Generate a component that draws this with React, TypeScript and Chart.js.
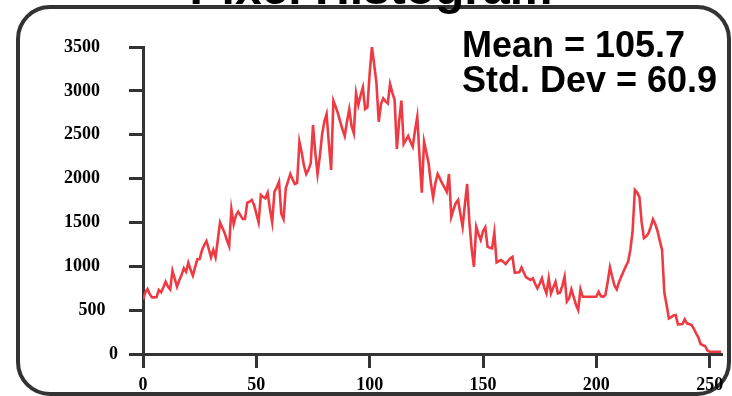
import { useEffect, useRef } from 'react';
import { Chart, registerables } from 'chart.js';

Chart.register(...registerables);

const pixelCounts: number[] = [
  620, 700, 740, 680, 646, 646, 650, 730, 703, 760,
  824, 770, 737, 950, 860, 767, 840, 900, 977, 938,
  1041, 960, 893, 990, 1080, 1083, 1180, 1243, 1288, 1200,
  1102, 1186, 1102, 1300, 1501, 1440, 1380, 1300, 1231, 1650,
  1479, 1580, 1622, 1580, 1539, 1539, 1725, 1736, 1756, 1700,
  1600, 1501, 1813, 1790, 1775, 1839, 1650, 1501, 1850, 1900,
  1964, 1600, 1539, 1889, 1970, 2052, 1990, 1938, 1950, 2420,
  2300, 2150, 2052, 2100, 2174, 2611, 2300, 2052, 2250, 2500,
  2650, 2736, 2400, 2098, 2888, 2820, 2744, 2650, 2560, 2485,
  2650, 2790, 2600, 2516, 2972, 2839, 2950, 3040, 2793, 2812,
  3200, 3503, 3300, 3086, 2648, 2850, 2915, 2880, 2858, 3078,
  2980, 2896, 2337, 2650, 2888, 2394, 2440, 2485, 2420, 2363,
  2550, 2705, 2250, 1839, 2420, 2300, 2174, 1950, 1786, 1950,
  2052, 2000, 1946, 1900, 1850, 2052, 1565, 1650, 1720, 1756,
  1600, 1451, 1700, 1938, 1500, 1200, 995, 1451, 1370, 1300,
  1400, 1444, 1223, 1210, 1204, 1383, 1045, 1060, 1072, 1050,
  1026, 1060, 1090, 1109, 927, 930, 931, 988, 930, 874,
  860, 844, 863, 800, 749, 800, 863, 760, 692, 863,
  692, 760, 824, 692, 700, 780, 882, 597, 635, 737,
  650, 560, 502, 737, 653, 653, 653, 653, 653, 653,
  653, 710, 660, 653, 673, 820, 988, 880, 780, 737,
  820, 882, 940, 1000, 1052, 1186, 1400, 1870, 1840, 1790,
  1500, 1320, 1340, 1376, 1450, 1535, 1482, 1400, 1290, 1186,
  700, 560, 406, 420, 440, 445, 338, 340, 342, 395,
  350, 342, 331, 290, 236, 190, 114, 100, 91, 40,
  26, 26, 26, 26, 26, 26,
];
const binIndex: number[] = pixelCounts.map((_, i) => i);

const yTicks: number[] = [0, 500, 1000, 1500, 2000, 2500, 3000, 3500];
const xTicks: number[] = [0, 50, 100, 150, 200, 250];
const chartTitle = 'Pixel Histogram';
const statsLines: string[] = ['Mean = 105.7', 'Std. Dev = 60.9'];

const tickFont = { family: '"Liberation Serif", serif', weight: 'bold' as const, size: 18 };

function padLabel(v: number): string {
  const s = String(v);
  if (s.length >= 4) return s + '    ';
  if (s.length === 3) return s + '  \u2009';
  return s;
}

const framePlugin = {
  id: 'frameAndText',
  beforeDraw(chart: any) {
    const ctx = chart.ctx;
    ctx.save();
    ctx.strokeStyle = '#333333';
    ctx.lineWidth = 4;
    ctx.beginPath();
    ctx.roundRect(18, 7, 711, 387, 32);
    ctx.stroke();
    ctx.restore();
  },
  afterDraw(chart: any) {
    const ctx = chart.ctx;
    ctx.save();
    ctx.fillStyle = '#000000';
    ctx.font = 'bold 48px "Liberation Sans", Arial, sans-serif';
    ctx.textAlign = 'center';
    ctx.textBaseline = 'alphabetic';
    ctx.fillText(chartTitle, 371, 4);
    ctx.font = 'bold 36px "Liberation Sans", Arial, sans-serif';
    ctx.textAlign = 'left';
    ctx.fillText(statsLines[0], 462, 57);
    ctx.fillText(statsLines[1], 462, 92);
    ctx.restore();
  },
};

export default function App() {
  const ref = useRef<HTMLCanvasElement | null>(null);
  useEffect(() => {
    document.body.style.margin = '0';
    const canvas = ref.current;
    if (!canvas) return;
    const chart = new Chart(canvas, {
      type: 'line',
      data: {
        datasets: [
          {
            data: binIndex.map((x, i) => ({ x, y: pixelCounts[i] })),
            borderColor: '#EE3B43',
            borderWidth: 2.6,
            pointRadius: 0,
            tension: 0,
            fill: false,
          },
        ],
      },
      options: {
        animation: false,
        responsive: false,
        maintainAspectRatio: false,
        layout: { padding: { top: 47, right: 11, left: 0, bottom: 0 } },
        plugins: { legend: { display: false }, tooltip: { enabled: false }, title: { display: false } },
        scales: {
          x: {
            type: 'linear',
            min: 0,
            max: 255,
            afterBuildTicks: (s: any) => {
              s.ticks = xTicks.map((v) => ({ value: v }));
            },
            afterFit: (s: any) => {
              s.height = 42;
            },
            ticks: {
              font: tickFont,
              color: '#000000',
              padding: 7,
              maxRotation: 0,
              autoSkip: false,
            },
            grid: { drawOnChartArea: false, tickLength: 14, color: '#333333', lineWidth: 3 },
            border: { display: true, color: '#333333', width: 3 },
          },
          y: {
            type: 'linear',
            min: 0,
            max: 3500,
            afterBuildTicks: (s: any) => {
              s.ticks = yTicks.map((v) => ({ value: v }));
            },
            afterFit: (s: any) => {
              s.width = 143;
            },
            ticks: {
              font: tickFont,
              color: '#000000',
              padding: 11,
              autoSkip: false,
              callback: (v: any) => padLabel(Number(v)),
            },
            grid: { drawOnChartArea: false, tickLength: 14, color: '#333333', lineWidth: 3 },
            border: { display: true, color: '#333333', width: 3 },
          },
        },
      },
      plugins: [framePlugin],
    });
    return () => chart.destroy();
  }, []);
  return (
    <div style={{ position: 'absolute', left: 0, top: 0, width: 732, height: 396 }}>
      <canvas ref={ref} width={732} height={396} style={{ display: 'block', width: 732, height: 396 }} />
    </div>
  );
}
